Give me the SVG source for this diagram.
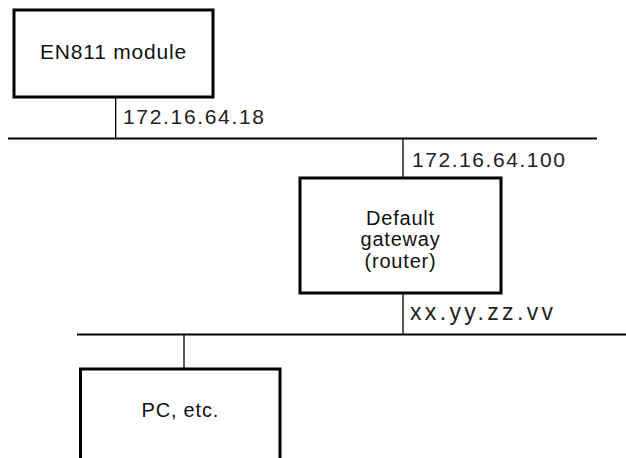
<svg xmlns="http://www.w3.org/2000/svg" width="626" height="458" viewBox="0 0 626 458">
<style>
.box{fill:#fff;stroke:#000;stroke-width:3}
.bus{stroke:#000;stroke-width:2.2;fill:none}
.drop{stroke:#000;stroke-width:1.3;fill:none}
.lbl{font-family:"Liberation Sans",Arial,sans-serif;font-size:20px;fill:#111;text-anchor:middle;letter-spacing:0.8px}
.addr{font-family:"Liberation Sans",Arial,sans-serif;font-size:21px;fill:#222;letter-spacing:2px}
</style>
<rect width="626" height="458" fill="#fff"/>
<g id="connectors">
<line class="bus" x1="8" y1="138.5" x2="597" y2="138.5"/>
<line class="bus" x1="77" y1="334.5" x2="626" y2="334.5"/>
<line class="drop" x1="115.7" y1="97" x2="115.7" y2="138"/>
<line class="drop" x1="403" y1="138" x2="403" y2="178"/>
<line class="drop" x1="403" y1="293" x2="403" y2="334"/>
<line class="drop" x1="184" y1="334" x2="184" y2="369"/>
<text class="addr" x="123" y="124" textLength="143" lengthAdjust="spacing">172.16.64.18</text>
<text class="addr" x="412" y="167" textLength="155" lengthAdjust="spacing">172.16.64.100</text>
<text class="addr" x="410" y="320" style="font-size:23px" textLength="145" lengthAdjust="spacing">xx.yy.zz.vv</text>
</g>
<g id="en811">
<rect class="box" x="14" y="10" width="199" height="87"/>
<text class="lbl" x="113.5" y="58.5" style="font-size:21px">EN811 module</text>
</g>
<g id="gateway">
<rect class="box" x="300" y="178" width="201" height="115"/>
<text class="lbl" x="400.5" y="225">Default</text>
<text class="lbl" x="400.5" y="246">gateway</text>
<text class="lbl" x="400.5" y="268">(router)</text>
</g>
<g id="pc">
<rect class="box" x="80.5" y="369" width="199.5" height="95"/>
<text class="lbl" x="180.3" y="417">PC, etc.</text>
</g>
</svg>
